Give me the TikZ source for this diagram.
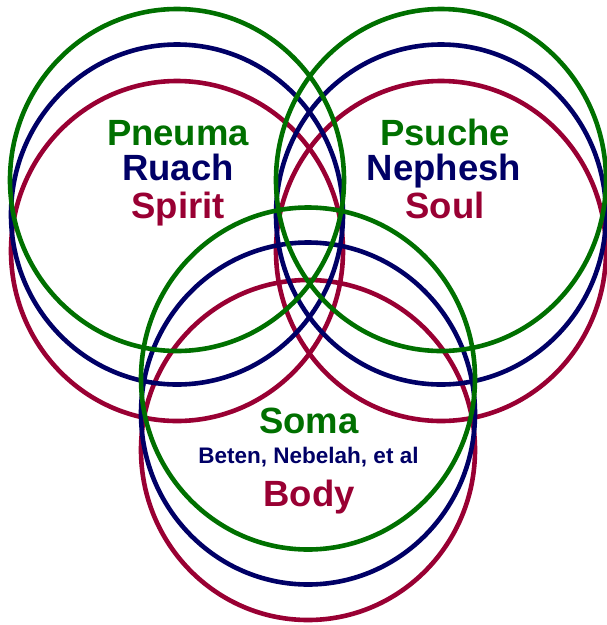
\documentclass[tikz,border=0pt]{standalone}
\usepackage{fontspec}
\setmainfont{Liberation Sans}
\definecolor{cgreen}{RGB}{0,112,0}
\definecolor{cblue}{RGB}{0,0,102}
\definecolor{cred}{RGB}{153,0,51}
\begin{document}
\begin{tikzpicture}[x=1pt,y=-1pt,
  ring/.style={line width=4.6pt},
  big/.style={font=\bfseries\fontsize{36.5}{40}\selectfont, anchor=base, inner sep=0pt},
  small/.style={font=\bfseries\fontsize{22.5}{26}\selectfont, anchor=base, inner sep=0pt}]
\useasboundingbox (0,0) rectangle (607,625);
% red rings
\draw[ring,cred] (177,251) ellipse[x radius=166, y radius=170];
\draw[ring,cred] (441,251) ellipse[x radius=165, y radius=170];
\draw[ring,cred] (308,450) ellipse[x radius=167, y radius=170];
% blue rings
\draw[ring,cblue] (177,214.5) ellipse[x radius=166, y radius=170];
\draw[ring,cblue] (441,214.5) ellipse[x radius=165, y radius=170];
\draw[ring,cblue] (308,413.5) ellipse[x radius=167, y radius=171];
% green rings
\draw[ring,cgreen] (177,180) ellipse[x radius=167, y radius=171];
\draw[ring,cgreen] (441,180) ellipse[x radius=165, y radius=171];
\draw[ring,cgreen] (308,378.5) ellipse[x radius=167, y radius=171];
% labels
\node[big,text=cgreen] (pneuma) at (178,145.5) {Pneuma};
\node[big,text=cblue] (ruach) at (178,180.5) {Ruach};
\node[big,text=cred] (spirit) at (178,218.5) {Spirit};
\node[big,text=cgreen] (psuche) at (445,145.5) {Psuche};
\node[big,text=cblue] (nephesh) at (444,180.5) {Nephesh};
\node[big,text=cred] (soul) at (445,218.5) {Soul};
\node[big,text=cgreen] (soma) at (309,433.5) {Soma};
\node[small,text=cblue] (beten) at (308.5,463) {Beten, Nebelah, et al};
\node[big,text=cred] (body) at (309,506) {Body};
\end{tikzpicture}
\end{document}
